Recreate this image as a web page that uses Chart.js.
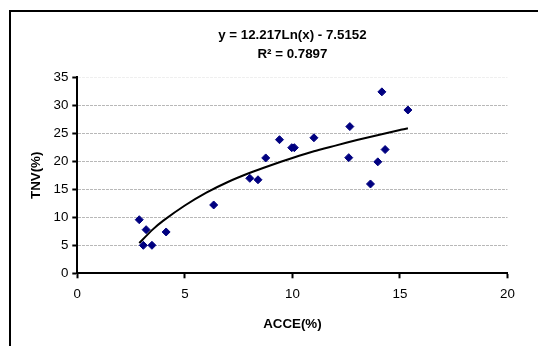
<!DOCTYPE html>
<html>
<head>
<meta charset="utf-8">
<script src="https://cdn.jsdelivr.net/npm/chart.js@4"></script>
<style>
  html, body { margin: 0; padding: 0; background: #fff; overflow: hidden; }
  #wrap { position: relative; width: 538px; height: 346px; }
  #frame { position: absolute; left: 9px; top: 10px; width: 700px; height: 500px;
           border-left: 2px solid #000; border-top: 2px solid #000; pointer-events: none; }
  canvas { position: absolute; left: 0; top: 0; }
</style>
</head>
<body>
<div id="wrap">
  <canvas id="c" width="538" height="346"></canvas>
  <div id="frame"></div>
</div>
<script>
// Data
const acce = [2.88, 3.20, 3.07, 3.47, 4.13, 6.34, 8.02, 8.40, 8.76, 9.40, 9.97, 10.09, 11.0, 12.67, 12.62, 14.16, 15.37, 14.31, 13.97, 13.63];
const tnv  = [9.57, 7.79, 5.0, 5.0, 7.38, 12.2, 16.96, 16.7, 20.6, 23.86, 22.43, 22.43, 24.2, 26.2, 20.65, 32.4, 29.16, 22.1, 19.9, 15.95];
// Trend line
const trendX = [2.88, 3.5, 4, 5, 6, 7, 8, 9, 10, 11, 12, 13, 14, 15, 15.37];
const trendY = [5.4, 7.8, 9.4, 12.1, 14.4, 16.3, 17.9, 19.3, 20.6, 21.8, 22.8, 23.8, 24.7, 25.6, 25.9];
const titleLines = ['y = 12.217Ln(x) - 7.5152', 'R\u00B2 = 0.7897'];
const xTitle = 'ACCE(%)';
const yTitle = 'TNV(%)';

const FONT = "'Liberation Sans', Arial, sans-serif";
const points = acce.map((x, i) => ({ x: x, y: tnv[i] }));
const trend = trendX.map((x, i) => ({ x: x, y: trendY[i] }));

new Chart(document.getElementById('c'), {
  type: 'scatter',
  data: {
    datasets: [
      {
        label: 'data',
        data: points,
        pointStyle: 'rectRot',
        pointRadius: 4,
        pointBackgroundColor: '#000080',
        pointBorderColor: '#000080',
        pointBorderWidth: 1,
        order: 1
      },
      {
        label: 'trend',
        type: 'line',
        data: trend,
        borderColor: '#000',
        borderWidth: 2,
        pointRadius: 0,
        tension: 0.2,
        fill: false,
        order: 2
      }
    ]
  },
  options: {
    responsive: false,
    animation: false,
    devicePixelRatio: 1,
    layout: { padding: { left: 0, right: 30.5, top: 0, bottom: 0 } },
    plugins: {
      legend: { display: false },
      tooltip: { enabled: false },
      title: {
        display: true,
        text: titleLines,
        fullSize: false,
        color: '#000',
        font: { family: FONT, size: 13.33, weight: 'bold', lineHeight: 1.425 },
        padding: { top: 26.3, bottom: 13 }
      }
    },
    scales: {
      x: {
        type: 'linear',
        min: 0, max: 20,
        afterFit: (s) => { s.height = 72.7; },
        ticks: { stepSize: 5, color: '#000', padding: 8,
                 font: { family: FONT, size: 13.33 } },
        grid: { drawOnChartArea: false, drawTicks: true, tickLength: 5,
                tickColor: '#000', tickWidth: 2 },
        border: { display: true, color: '#000', width: 2 },
        title: { display: true, text: xTitle, color: '#000',
                 font: { family: FONT, size: 13.33, weight: 'bold', lineHeight: 1.2 },
                 padding: { top: 0, bottom: 14 } }
      },
      y: {
        type: 'linear',
        min: 0, max: 35,
        afterFit: (s) => { s.width = 77.3; },
        ticks: { stepSize: 5, color: '#000', padding: 4,
                 font: { family: FONT, size: 13.33 } },
        grid: {
          drawOnChartArea: true, drawTicks: true, tickLength: 5,
          color: (ctx) => (ctx.tick && ctx.tick.value === 35) ? '#efefef' : (ctx.tick && ctx.tick.value === 0 ? 'rgba(0,0,0,0)' : '#b8b8b8'),
          lineWidth: 1,
          tickColor: '#000', tickWidth: 2
        },
        border: { display: true, color: '#000', width: 2, dash: [3, 1] },
        title: { display: true, text: yTitle, color: '#000',
                 font: { family: FONT, size: 13.33, weight: 'bold', lineHeight: 1.2 },
                 padding: { top: 28, bottom: 0 } }
      }
    }
  }
});
</script>
</body>
</html>
